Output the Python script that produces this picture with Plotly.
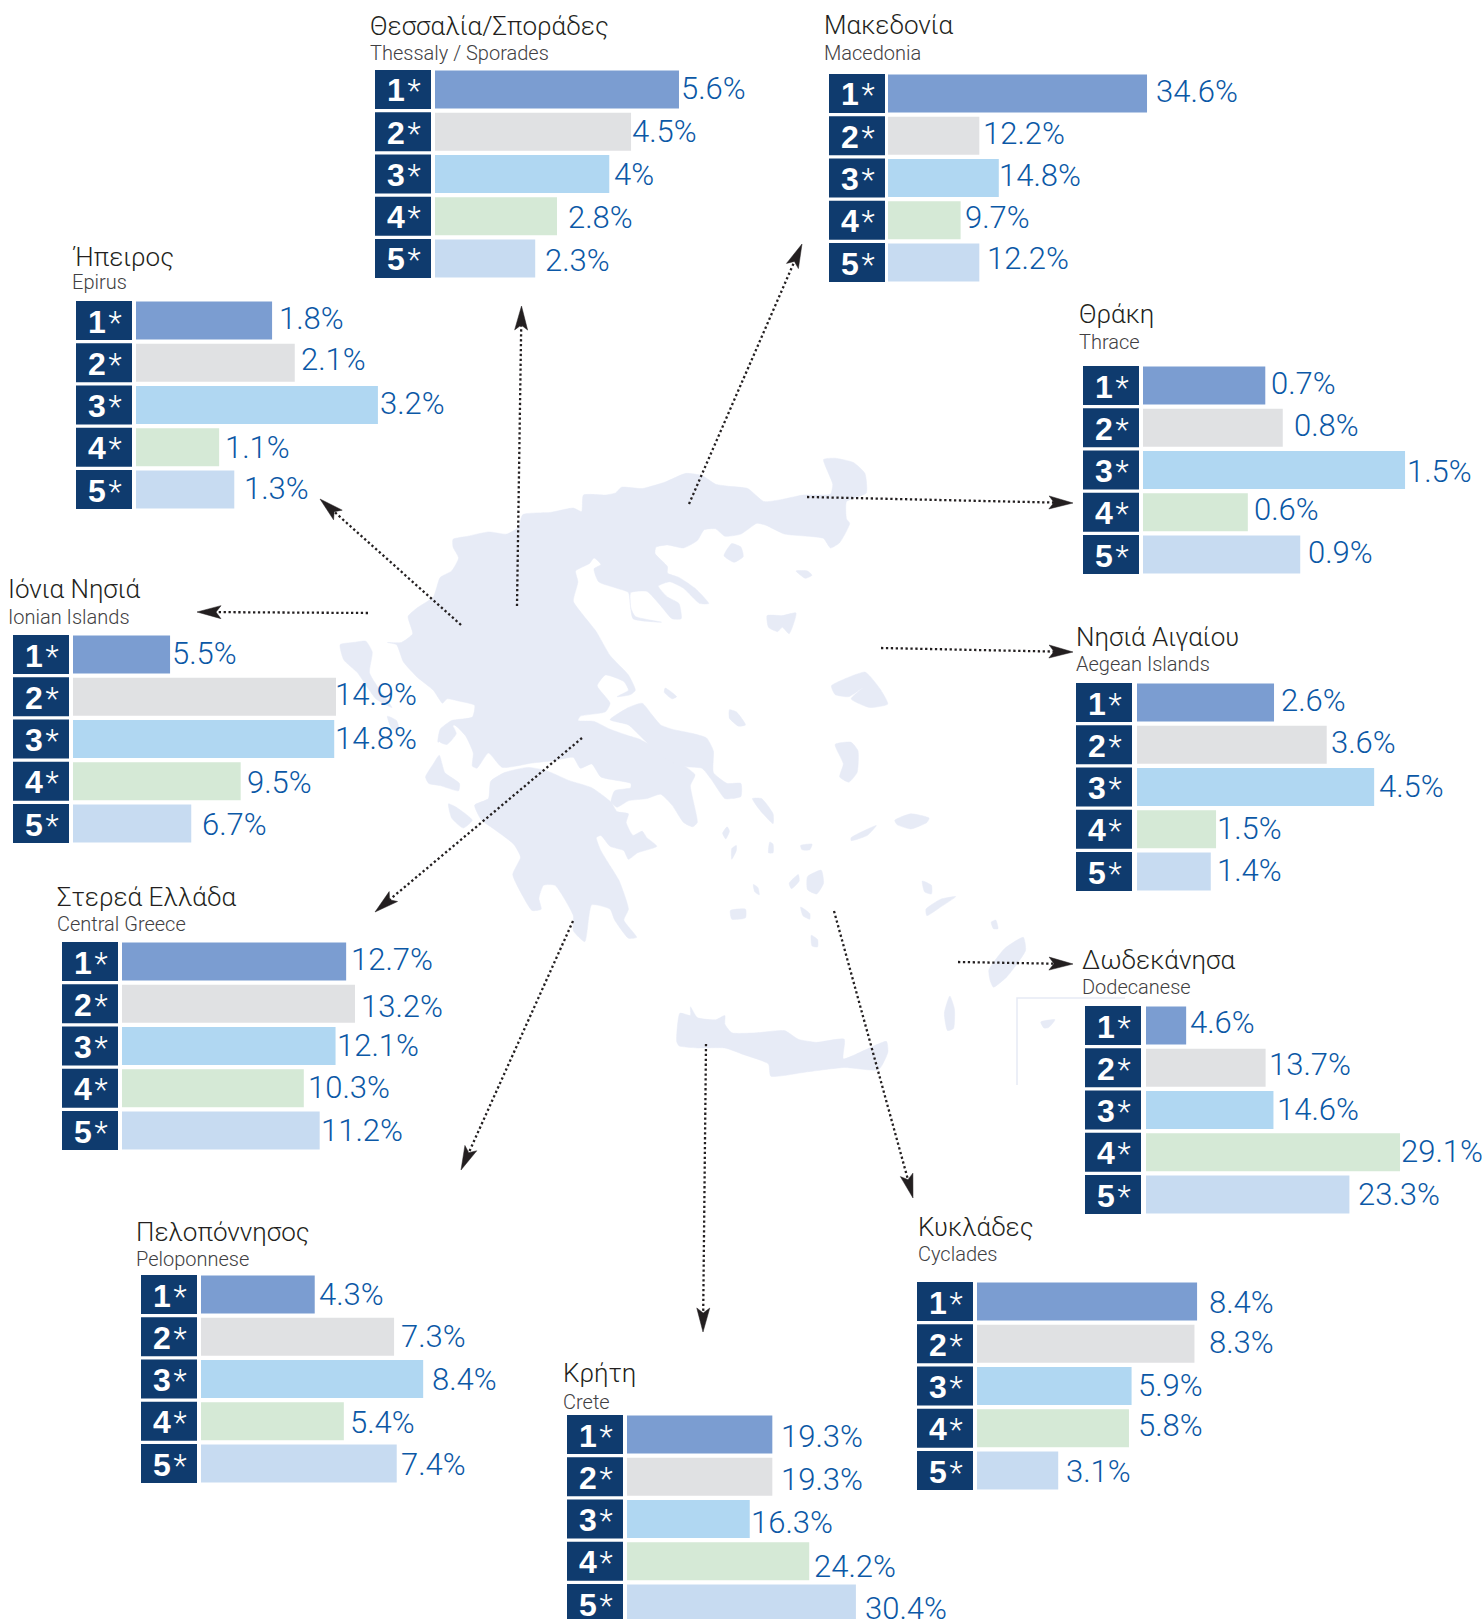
import math
import plotly.graph_objects as go

W, H = 1484, 1619

# ---------- data ----------
TIERS = ["1*", "2*", "3*", "4*", "5*"]
NAMES_EL = ["Θεσσαλία/Σποράδες", "Μακεδονία", "Ήπειρος", "Θράκη", "Ιόνια Νησιά", "Νησιά Αιγαίου",
            "Στερεά Ελλάδα", "Δωδεκάνησα", "Πελοπόννησος", "Κυκλάδες", "Κρήτη"]
NAMES_EN = ["Thessaly / Sporades", "Macedonia", "Epirus", "Thrace", "Ionian Islands", "Aegean Islands",
            "Central Greece", "Dodecanese", "Peloponnese", "Cyclades", "Crete"]
thessaly = [5.6, 4.5, 4, 2.8, 2.3]
macedonia = [34.6, 12.2, 14.8, 9.7, 12.2]
epirus = [1.8, 2.1, 3.2, 1.1, 1.3]
thrace = [0.7, 0.8, 1.5, 0.6, 0.9]
ionian = [5.5, 14.9, 14.8, 9.5, 6.7]
aegean = [2.6, 3.6, 4.5, 1.5, 1.4]
central = [12.7, 13.2, 12.1, 10.3, 11.2]
dodecanese = [4.6, 13.7, 14.6, 29.1, 23.3]
peloponnese = [4.3, 7.3, 8.4, 5.4, 7.4]
cyclades = [8.4, 8.3, 5.9, 5.8, 3.1]
crete = [19.3, 19.3, 16.3, 24.2, 30.4]
VALUES = [thessaly, macedonia, epirus, thrace, ionian, aegean, central, dodecanese, peloponnese, cyclades, crete]

# ---------- layout table (page pixels) ----------
# title x, title y, sub y, box x, first box top, last box top, bar x, px per unit
GEOM = [
    (371, 26, 53, 375, 70, 239, 435, 43.57),
    (825, 25, 53, 829, 74, 243, 888, 7.486),
    (73, 257, 282, 76, 301, 470, 136, 75.6),
    (1080, 314, 342, 1083, 366, 535, 1143, 174.7),
    (9, 589, 617, 13, 635, 804, 73, 17.65),
    (1077, 637, 664, 1076, 683, 852, 1137, 52.7),
    (58, 897, 924, 62, 942, 1111, 122, 17.65),
    (1083, 960, 987, 1085, 1006, 1175, 1146, 8.73),
    (137, 1232, 1259, 141, 1275, 1444, 201, 26.45),
    (919, 1227, 1254, 917, 1282, 1451, 977, 26.2),
    (564, 1373, 1402, 567, 1415, 1584, 627, 7.53),
]
# label left edges and vertical centres (page pixels)
LABEL_X = [
    [683, 634, 616, 570, 547], [1158, 985, 1001, 967, 989], [281, 303, 382, 227, 246],
    [1273, 1296, 1409, 1256, 1310], [174, 337, 337, 249, 204], [1283, 1333, 1381, 1219, 1219],
    [353, 363, 339, 310, 323], [1192, 1271, 1279, 1403, 1360], [321, 403, 434, 352, 403],
    [1211, 1211, 1140, 1140, 1068], [783, 783, 753, 816, 867],
]
LABEL_Y = [
    [88, 131, 174, 217, 260], [91, 133, 175, 217, 258], [318, 359, 403, 447, 488],
    [383, 425, 471, 509, 552], [653, 694, 738, 782, 824], [700, 742, 786, 828, 870],
    [959, 1006, 1045, 1087, 1130], [1022, 1064, 1109, 1151, 1194], [1295, 1337, 1380, 1423, 1465],
    [1302, 1342, 1385, 1425, 1471], [1436, 1479, 1522, 1566, 1608],
]
BAR_COLORS = ["#7b9dd1", "#e0e1e3", "#b0d7f2", "#d5e9d6", "#c7dbf1"]
NAVY = "#0f3b6e"
LABEL_BLUE = "#0b58a6"
MAP_BLUE = "#e7ebf6"
LABEL_DX, LABEL_DY, TITLE_DX, TIER_DX, TIER_DY = -4, 0, -3, 2, 1.5

# ---------- map outline, traced in crop units (1568 x 1568 over page box 330..1050 / 430..1110) ----------
MAINLAND = [(268,252),(300,245),(345,235),(385,240),(410,225),(420,195),(480,190),(530,180),(548,188),(552,150),(600,150),(622,145),(635,132),(680,135),(730,120),(775,100),(810,105),(840,125),(870,130),(910,135),(945,165),(985,160),(1030,150),(1090,148),(1095,125),(1075,68),(1100,65),(1140,75),(1165,100),(1168,145),(1125,165),(1125,205),(1132,215),(1110,260),(1090,272),(1075,250),(1040,245),(990,240),(950,220),(930,215),(895,240),(860,245),(840,228),(815,230),(800,255),(770,272),(735,265),(710,270),(708,285),(735,315),(735,330),(760,340),(795,365),(825,400),(805,400),(770,365),(740,350),(715,360),(735,385),(760,400),(765,435),(745,435),(720,405),(690,372),(655,375),(655,410),(665,430),(722,443),(660,435),(650,375),(625,365),(585,350),(575,320),(590,310),(575,295),(565,308),(535,325),(540,350),(530,395),(550,425),(580,465),(610,520),(650,565),(665,600),(655,610),(625,615),(650,600),(640,580),(600,565),(582,590),(610,630),(600,650),(545,660),(540,670),(575,672),(610,690),(650,705),(672,712),(720,740),(735,755),(765,770),(795,795),(785,820),(800,905),(790,915),(770,905),(745,865),(720,840),(690,850),(650,855),(625,870),(612,858),(620,832),(655,825),(655,815),(590,800),(570,770),(545,780),(530,755),(490,762),(440,768),(375,778),(345,745),(320,780),(310,775),(312,745),(295,705),(270,680),(250,710),(235,720),(240,690),(265,670),(310,662),(315,635),(280,625),(255,620),(245,630),(225,600),(190,570),(160,535),(145,495),(125,490),(155,490),(180,470),(170,430),(190,410),(225,385),(240,340),(265,325),(280,295),(268,270)]
PELOPONNESE = [(350,810),(380,790),(430,778),(470,785),(520,808),(570,825),(612,858),(625,880),(650,885),(645,905),(660,935),(680,925),(690,940),(712,960),(670,975),(650,990),(640,970),(610,960),(590,935),(580,940),(590,970),(610,1005),(630,1040),(650,1105),(640,1130),(668,1170),(650,1172),(620,1130),(610,1105),(570,1095),(555,1180),(530,1155),(530,1120),(490,1050),(465,1050),(455,1080),(460,1105),(440,1108),(420,1075),(398,1025),(415,985),(400,955),(350,915),(330,900),(315,865),(345,850)]
EUBOEA = [(610,668),(650,640),(680,630),(700,655),(720,680),(745,690),(790,700),(820,710),(835,740),(835,790),(865,815),(895,815),(895,845),(875,850),(860,850),(830,805),(810,780),(760,775),(720,750),(680,710),(650,680)]
CRETE_MAP = [(755,1410),(762,1345),(785,1350),(785,1330),(800,1355),(840,1360),(860,1350),(860,1370),(875,1390),(930,1390),(990,1385),(1020,1405),(1060,1412),(1120,1405),(1118,1450),(1165,1430),(1212,1410),(1215,1435),(1195,1475),(1120,1470),(1040,1480),(960,1490),(955,1462),(900,1440),(860,1425),(800,1425),(760,1420)]
ISLANDS = [
    [(22,495),(50,490),(78,487),(92,512),(86,560),(115,610),(135,640),(100,620),(60,560),(30,530)],
    [(125,660),(145,670),(150,690),(135,690)],
    [(238,750),(250,790),(282,815),(280,832),(240,820),(215,815),(208,800),(225,770)],
    [(258,862),(275,870),(310,900),(290,918),(265,895)],
    [(265,680),(275,700),(255,725),(240,720),(240,695)],
    [(875,262),(895,270),(900,292),(880,305),(858,290)],
    [(1015,325),(1040,325),(1050,335),(1035,342)],
    [(952,428),(985,428),(1015,422),(1000,470),(985,455),(975,465),(955,455)],
    [(730,595),(755,615),(745,620),(728,605)],
    [(870,645),(885,650),(905,680),(890,683),(870,665)],
    [(1092,590),(1130,570),(1165,558),(1178,570),(1200,600),(1215,632),(1175,640),(1135,620),(1160,595),(1130,615),(1100,610)],
    [(1100,725),(1135,720),(1150,740),(1148,790),(1130,812),(1110,800),(1118,770)],
    [(1230,900),(1265,885),(1305,895),(1300,905),(1265,920),(1235,910)],
    [(1135,940),(1190,912),(1170,935),(1135,947)],
    [(920,850),(940,850),(965,885),(965,908),(935,875)],
    [(855,930),(865,915),(870,925),(862,943)],
    [(875,965),(885,958),(885,970),(875,990)],
    [(958,950),(965,955),(965,975),(955,975)],
    [(1025,958),(1050,955),(1045,968),(1028,968)],
    [(1000,1045),(1020,1025),(1022,1040),(1005,1058)],
    [(1040,1030),(1070,1015),(1075,1045),(1060,1070),(1040,1060)],
    [(872,1108),(905,1105),(905,1125),(875,1128)],
    [(922,1048),(932,1055),(935,1072),(925,1065)],
    [(1025,1100),(1045,1115),(1045,1128),(1030,1120)],
    [(1048,1165),(1062,1175),(1062,1192),(1050,1190)],
    [(1298,1105),(1330,1082),(1363,1076),(1330,1100),(1300,1120)],
    [(1290,1040),(1310,1050),(1310,1070),(1295,1065)],
    [(1435,1245),(1470,1195),(1510,1170),(1515,1200),(1475,1260),(1445,1285),(1438,1270)],
    [(1350,1305),(1360,1335),(1358,1380),(1345,1385),(1338,1345)],
    [(1440,1135),(1450,1130),(1455,1150),(1445,1150)],
    [(1548,1365),(1579,1360),(1565,1378),(1555,1379)],
]
# arrows: tail x, tail y, tip x, tip y (page pixels)
ARROWS = [
    (461,625,320,499), (368,613,197,612), (517,606,521.5,306), (689,504,802,244),
    (807,497,1073,503), (881,648,1073,652), (958,962,1073,964), (582,738,375,912),
    (573,921,461,1170), (706,1044,703,1332), (834,911,913,1198),
]
INSET_FRAME = [(1125,998),(1017,998),(1017,1085)]

fig = go.Figure()

def mx(v): return 330 + v / 2.178
def my(v): return 430 + v / 2.306

# page-wide axes hold the map and the arrows
for poly in [MAINLAND, PELOPONNESE, EUBOEA, CRETE_MAP] + ISLANDS:
    pts = poly + [poly[0]]
    fig.add_trace(go.Scatter(x=[mx(p[0]) for p in pts], y=[my(p[1]) for p in pts], mode="lines",
                             fill="toself", fillcolor=MAP_BLUE,
                             line=dict(color=MAP_BLUE, width=0.5, shape="spline", smoothing=0.5),
                             hoverinfo="skip", showlegend=False))
fig.add_trace(go.Scatter(x=[p[0] for p in INSET_FRAME], y=[p[1] for p in INSET_FRAME], mode="lines",
                         line=dict(color="#e6eaf5", width=1.5), hoverinfo="skip", showlegend=False))
HEAD_L, HEAD_HALF, HEAD_NOTCH = 24, 6.5, 5
for x0, y0, x1, y1 in ARROWS:
    d = math.hypot(x1 - x0, y1 - y0)
    ux, uy = (x1 - x0) / d, (y1 - y0) / d
    nx, ny = -uy, ux
    bx, by = x1 - ux * HEAD_L, y1 - uy * HEAD_L
    kx, ky = x1 - ux * (HEAD_L - HEAD_NOTCH), y1 - uy * (HEAD_L - HEAD_NOTCH)
    fig.add_trace(go.Scatter(x=[x0, kx], y=[y0, ky], mode="lines",
                             line=dict(color="#231f20", width=2.3, dash="2.3px,2.6px"),
                             hoverinfo="skip", showlegend=False))
    fig.add_trace(go.Scatter(x=[x1, bx + nx * HEAD_HALF, kx, bx - nx * HEAD_HALF, x1],
                             y=[y1, by + ny * HEAD_HALF, ky, by - ny * HEAD_HALF, y1],
                             mode="lines", fill="toself", fillcolor="#231f20",
                             line=dict(color="#231f20", width=0.5),
                             hoverinfo="skip", showlegend=False))

layout = dict(
    width=W, height=H, margin=dict(l=0, r=0, t=0, b=0), paper_bgcolor="white", plot_bgcolor="rgba(0,0,0,0)",
    bargap=0.1, showlegend=False, hovermode=False,
    xaxis=dict(domain=[0, 1], range=[0, W], visible=False, fixedrange=True),
    yaxis=dict(domain=[0, 1], range=[H, 0], visible=False, fixedrange=True),
)
annotations, shapes = [], []
BOX_W, BOX_H = 56, 39

for k, (vals, gm) in enumerate(zip(VALUES, GEOM)):
    tx, ty, sy, box_x, top, last, bar_x, scale = gm
    pitch = (last - top) / 4
    n = k + 2
    xa, ya = f"xaxis{n}", f"yaxis{n}"
    span = max(vals) * scale + 2
    d_top = top + BOX_H / 2 - pitch / 2
    d_bot = d_top + 5 * pitch
    y_end = 4.5
    if d_bot > H:
        y_end = (H - d_top) / pitch - 0.5
        d_bot = H
    layout[xa] = dict(domain=[bar_x / W, (bar_x + span) / W], range=[0, span / scale], visible=False, fixedrange=True)
    layout[ya] = dict(domain=[1 - d_bot / H, 1 - d_top / H], range=[y_end, -0.5], visible=False, fixedrange=True)
    fig.add_trace(go.Bar(x=vals, y=list(range(5)), orientation="h", marker=dict(color=BAR_COLORS, line=dict(width=0)),
                         xaxis=f"x{n}", yaxis=f"y{n}", hoverinfo="skip", showlegend=False))
    annotations.append(dict(text=NAMES_EL[k], xref="paper", yref="paper", x=(tx + TITLE_DX) / W, y=1 - ty / H,
                            xanchor="left", yanchor="middle", showarrow=False,
                            font=dict(family="Roboto", size=26, color="#231f20", weight=300)))
    annotations.append(dict(text=NAMES_EN[k], xref="paper", yref="paper", x=(tx + TITLE_DX) / W, y=1 - sy / H,
                            xanchor="left", yanchor="middle", showarrow=False,
                            font=dict(family="Roboto", size=20, color="#414042", weight=300)))
    for i, v in enumerate(vals):
        bt = top + i * pitch
        shapes.append(dict(type="rect", xref="paper", yref="paper", x0=box_x / W, x1=(box_x + BOX_W) / W,
                           y0=1 - bt / H, y1=max(0, 1 - (bt + BOX_H) / H), fillcolor=NAVY, line=dict(width=0), layer="above"))
        star = '<span style="font-family:Roboto;font-weight:300;font-size:31px">*</span>'
        annotations.append(dict(text=f"<b>{TIERS[i][0]}</b>\u200a{star}", xref="paper", yref="paper",
                                x=(box_x + 46 + TIER_DX) / W, y=1 - (bt + BOX_H / 2 + TIER_DY) / H,
                                xanchor="right", yanchor="middle", showarrow=False,
                                font=dict(family="Liberation Sans", size=32, color="white")))
        row_c = d_top + (i + 0.5) * pitch
        annotations.append(dict(text=f"{v:g}%", xref=f"x{n}", yref=f"y{n}", x=v, y=i,
                                xshift=LABEL_X[k][i] + LABEL_DX - (bar_x + v * scale),
                                yshift=-(LABEL_Y[k][i] + LABEL_DY - row_c),
                                xanchor="left", yanchor="middle", showarrow=False,
                                font=dict(family="Roboto", size=31, color=LABEL_BLUE, weight=300)))

layout["annotations"] = annotations
layout["shapes"] = shapes
fig.update_layout(**layout)
fig.write_html("out.html", config=dict(displayModeBar=False),
               post_script="document.body.style.margin='0';document.documentElement.style.overflow='hidden';")
